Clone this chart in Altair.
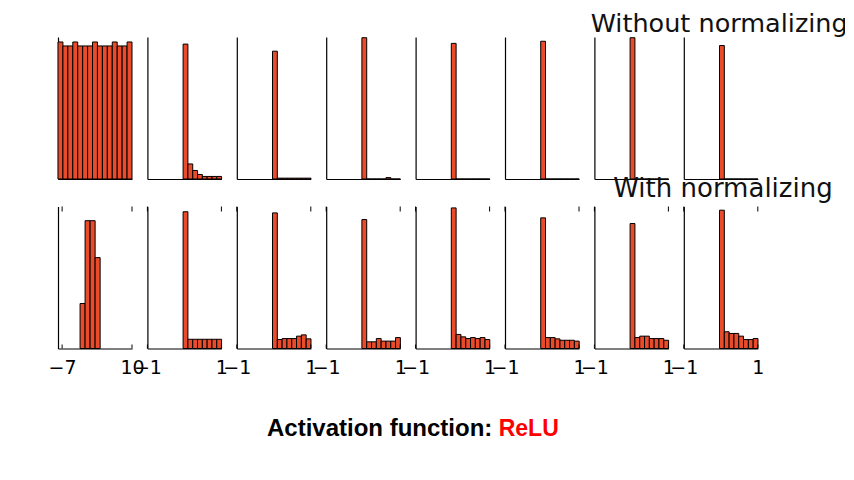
import altair as alt
import pandas as pd

# ---------------- data ----------------
ROW_TITLES = ["Without normalizing", "With normalizing"]
TITLE_PREFIX = "Activation function:"
TITLE_ACT = "ReLU"

FIRST_DOMAIN = [-8, 10]
OTHER_DOMAIN = [-1, 1]
FIRST_TICKS = [-7, 10]
OTHER_TICKS = [-1, 1]

# histogram bin layout (data units)
TOP_FIRST_BIN_START = -8.0
TOP_FIRST_BIN_WIDTH = 1.2
BOTTOM_FIRST_BIN_START = -2.63
BOTTOM_FIRST_BIN_WIDTH = 1.22
ACT_BIN_START = -0.035
ACT_BIN_WIDTH = 0.13

# relative bar heights (share of the panel's height)
TOP_COL1 = [0.965, 0.937, 0.937, 0.965, 0.937, 0.937, 0.937, 0.965,
            0.937, 0.937, 0.937, 0.965, 0.937, 0.937, 0.965]
TOP_LAYERS = [
    [0.95, 0.106, 0.06, 0.032, 0.018, 0.018, 0.018, 0.018],
    [0.90, 0.006, 0.006, 0.006, 0.006, 0.006, 0.006, 0.006],
    [0.995, 0.0, 0.0, 0.0, 0.0, 0.01, 0.0, 0.0],
    [0.955, 0.0, 0.0, 0.0, 0.0, 0.0, 0.0, 0.0],
    [0.97, 0.0, 0.0, 0.0, 0.0, 0.0, 0.0, 0.0],
    [0.995, 0.0, 0.0, 0.0, 0.0, 0.0, 0.0, 0.0],
    [0.94, 0.0, 0.0, 0.0, 0.0, 0.0, 0.0, 0.0],
]
BOTTOM_COL1 = [0.317, 0.90, 0.90, 0.64]
BOTTOM_LAYERS = [
    [0.963, 0.065, 0.065, 0.065, 0.065, 0.065, 0.065, 0.065],
    [0.955, 0.063, 0.07, 0.07, 0.07, 0.087, 0.096, 0.068],
    [0.908, 0.047, 0.047, 0.07, 0.052, 0.052, 0.052, 0.077],
    [0.99, 0.099, 0.082, 0.07, 0.077, 0.07, 0.077, 0.063],
    [0.92, 0.077, 0.077, 0.068, 0.058, 0.058, 0.058, 0.052],
    [0.88, 0.077, 0.087, 0.087, 0.07, 0.07, 0.07, 0.058],
    [0.974, 0.118, 0.106, 0.106, 0.087, 0.063, 0.063, 0.07],
]

# ---------------- style ----------------
W, H = 74, 142
FILL = "#e94b2b"
TICK_FONT = "DejaVu Sans"


def panel(heights, bin_start, bin_width, domain, ticks, bottom):
    df = pd.DataFrame({
        "x0": [bin_start + i * bin_width for i in range(len(heights))],
        "x1": [bin_start + (i + 1) * bin_width for i in range(len(heights))],
        "h": heights,
        "h0": [0.0] * len(heights),
    })
    xscale = alt.Scale(domain=domain, nice=False, zero=False)
    xaxis = alt.Axis(values=ticks, labels=bottom, labelFontSize=19, labelFont=TICK_FONT,
                     labelColor="black", labelPadding=10, labelFlush=False,
                     labelOverlap=False, format="d", ticks=False, grid=False,
                     title=None, domainColor="black", domainWidth=1.2)
    yaxis = alt.Axis(labels=False, ticks=False, grid=False, title=None,
                     domainColor="black", domainWidth=1.2)
    bars = alt.Chart(df).mark_rect(fill=FILL, stroke="black", strokeWidth=1).encode(
        x=alt.X("x0:Q", scale=xscale, axis=xaxis),
        x2="x1:Q",
        y=alt.Y("h:Q", scale=alt.Scale(domain=[0, 1], nice=False), axis=yaxis),
        y2="h0:Q",
    )
    layers = [bars]
    if bottom:
        tdf = pd.DataFrame({"t": ticks})
        top_ticks = alt.Chart(tdf).mark_rule(color="black", strokeWidth=1).encode(
            x=alt.X("t:Q", scale=xscale, axis=xaxis),
            y=alt.value(0), y2=alt.value(5))
        bot_ticks = alt.Chart(tdf).mark_rule(color="black", strokeWidth=1).encode(
            x=alt.X("t:Q", scale=xscale, axis=xaxis),
            y=alt.value(H - 4), y2=alt.value(H))
        layers += [top_ticks, bot_ticks]
    return layers


def text_layer(txt, x, y, size, font, color, weight="normal", align="left"):
    return alt.Chart(pd.DataFrame({"t": [txt]})).mark_text(
        align=align, baseline="alphabetic", fontSize=size, font=font,
        color=color, fontWeight=weight).encode(
        text="t:N", x=alt.value(x), y=alt.value(y))


cells = []
# top row
cells.append(alt.layer(*panel(TOP_COL1, TOP_FIRST_BIN_START, TOP_FIRST_BIN_WIDTH,
                              FIRST_DOMAIN, FIRST_TICKS, False)).properties(width=W, height=H))
for i, hs in enumerate(TOP_LAYERS):
    layers = panel(hs, ACT_BIN_START, ACT_BIN_WIDTH, OTHER_DOMAIN, OTHER_TICKS, False)
    if i == len(TOP_LAYERS) - 1:
        layers.append(text_layer(ROW_TITLES[0], -93.1, -5.3, 25.5, TICK_FONT, "#111"))
    cells.append(alt.layer(*layers).properties(width=W, height=H))

# bottom row
first = panel(BOTTOM_COL1, BOTTOM_FIRST_BIN_START, BOTTOM_FIRST_BIN_WIDTH,
              FIRST_DOMAIN, FIRST_TICKS, True)
first.append(text_layer(TITLE_PREFIX, 434.3, 229, 24, "Liberation Sans", "black", "bold", "right"))
first.append(text_layer(TITLE_ACT, 440.7, 229, 23, "Liberation Sans", "#ff0000", "bold", "left"))
cells.append(alt.layer(*first).properties(width=W, height=H))
for i, hs in enumerate(BOTTOM_LAYERS):
    layers = panel(hs, ACT_BIN_START, ACT_BIN_WIDTH, OTHER_DOMAIN, OTHER_TICKS, True)
    if i == len(BOTTOM_LAYERS) - 1:
        layers.append(text_layer(ROW_TITLES[1], -70.6, -9.3, 26, TICK_FONT, "#111"))
    cells.append(alt.layer(*layers).properties(width=W, height=H))

# slightly negative right padding keeps the page within the window (title clipped at edge)
chart = alt.concat(*cells, columns=8, spacing={"row": 27.5, "column": 15.4},
                   bounds="flush").properties(
    padding={"left": 40, "top": 3, "right": -3, "bottom": 0}
).configure_view(stroke=None)

chart.save("out.html", embed_options={"renderer": "svg", "actions": False})
